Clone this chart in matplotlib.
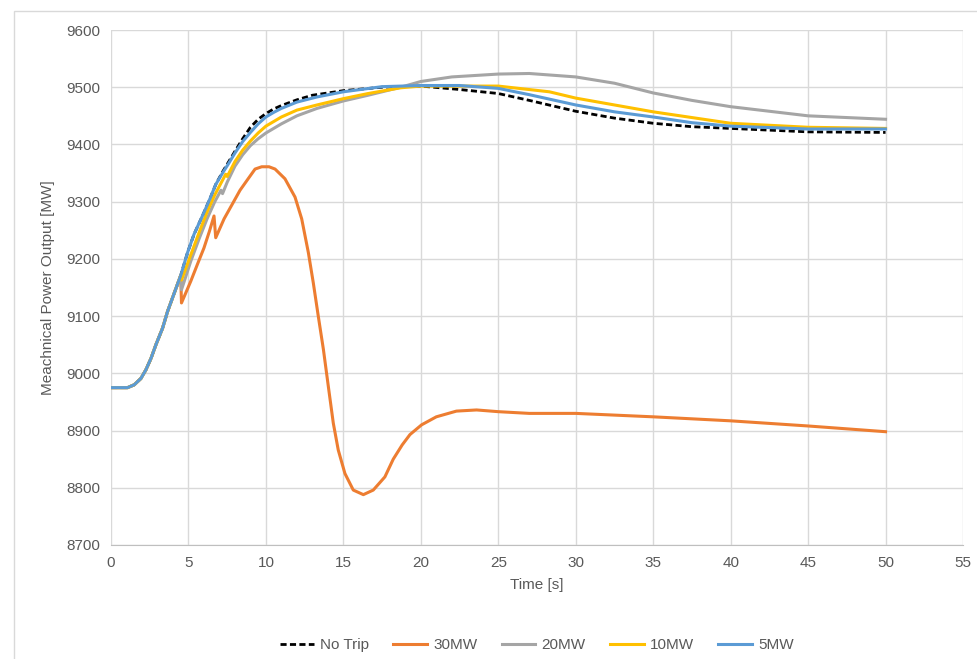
import matplotlib
matplotlib.use("Agg")
import matplotlib.pyplot as plt
from matplotlib.patches import Rectangle

plt.rcParams['font.family'] = ['Liberation Sans', 'DejaVu Sans']

# Common start (all series identical before the trip)
t_common = [0, 1.07, 1.5, 1.93, 2.25, 2.58, 2.9, 3.33, 3.65, 4.08, 4.5]
v_common = [8975, 8975, 8980, 8991, 9006, 9026, 9050, 9079, 9108, 9140, 9171]

t_notrip = t_common + [4.94, 5.36, 6.0, 6.4, 6.76, 7.2, 7.6, 8.0, 8.5, 9.0, 9.5, 10.0, 10.5, 11.0, 12.0, 13.0,
                       15.0, 17.5, 20.0, 22.5, 25.0, 27.0, 30.0, 32.5, 35.0, 37.5, 40.0, 45.0, 50.0]
v_notrip = v_common + [9211, 9243, 9281, 9306, 9330, 9352, 9370, 9388, 9410, 9430, 9444, 9454, 9462, 9468, 9478,
                       9486, 9494, 9500, 9502, 9496, 9489, 9477, 9458, 9446, 9437, 9431, 9428, 9422, 9421]

t_30 = t_common + [4.55, 4.85, 5.15, 5.6, 6.0, 6.35, 6.65, 6.76, 7.3, 7.94, 8.33, 8.8, 9.3, 9.73, 10.2,
                   10.59, 11.23, 11.88, 12.31, 12.74, 13.06, 13.38, 13.71, 14.03, 14.35, 14.67, 15.1, 15.64,
                   16.29, 16.93, 17.68, 18.22, 18.8, 19.3, 20.05, 21.0, 22.3, 23.6, 25.0, 27.0, 30.0, 35.0,
                   40.0, 45.0, 50.0]
v_30 = v_common + [9123, 9142, 9161, 9192, 9219, 9248, 9275, 9237, 9270, 9301, 9320, 9338, 9357, 9361, 9361,
                   9357, 9340, 9308, 9270, 9211, 9158, 9100, 9042, 8977, 8913, 8866, 8825, 8796,
                   8788, 8796, 8819, 8850, 8875, 8893, 8910, 8924, 8934, 8936, 8933, 8930, 8930, 8924,
                   8917, 8908, 8898]

t_20 = t_common + [4.55, 5.15, 5.7, 6.2, 6.7, 7.1, 7.2, 7.5, 8.0, 8.5, 9.0, 9.5, 10.0, 11.0, 12.0, 13.3,
                   15.0, 16.6, 18.7, 20.0, 22.0, 25.0, 27.0, 30.0, 32.5, 35.0, 37.5, 40.0, 45.0, 50.0]
v_20 = v_common + [9146, 9196, 9236, 9270, 9300, 9320, 9314, 9334, 9362, 9382, 9398, 9410, 9420, 9436, 9450, 9463,
                   9476, 9486, 9500, 9510, 9518, 9523, 9524, 9518, 9507, 9490, 9477, 9466, 9450, 9444]

t_10 = t_common + [4.55, 5.15, 5.7, 6.2, 6.7, 7.25, 7.4, 7.5, 8.0, 8.5, 9.0, 9.5, 10.0, 11.0, 12.0, 13.3, 15.0,
                   16.6, 18.7, 20.0, 25.0, 28.3, 30.0, 35.0, 40.0, 45.0, 50.0]
v_10 = v_common + [9163, 9207, 9247, 9282, 9312, 9340, 9348, 9344, 9370, 9390, 9406, 9420, 9432, 9448, 9460, 9469,
                   9480, 9489, 9499, 9502, 9502, 9492, 9481, 9457, 9437, 9430, 9428]

t_5 = t_common + [4.94, 5.36, 6.0, 6.4, 6.76, 7.2, 7.6, 8.0, 8.5, 9.0, 9.5, 10.0, 10.5, 11.0, 12.0, 13.3,
                  15.0, 17.5, 20.0, 22.5, 25.0, 27.0, 30.0, 32.5, 35.0, 37.5, 40.0, 45.0, 50.0]
v_5 = v_common + [9211, 9243, 9281, 9306, 9330, 9350, 9367, 9385, 9405, 9421, 9436, 9448, 9456, 9463, 9474, 9483,
                  9492, 9501, 9503, 9503, 9498, 9487, 9469, 9457, 9448, 9438, 9432, 9427, 9427]

x_ticks = list(range(0, 60, 5))
y_ticks = list(range(8700, 9700, 100))

fig = plt.figure(figsize=(9.78, 6.59), dpi=100)
ax = fig.add_axes([111/978, 1-545/659, (963-111)/978, (545-30)/659])

fig.patches.append(Rectangle((14/978, -0.01), 1.0, 1-11/659 + 0.01, transform=fig.transFigure,
                             fill=False, edgecolor='#d9d9d9', linewidth=1.0))

ax.plot(t_notrip, v_notrip, color='black', lw=2.0, linestyle=(0, (2.2, 1.2)), label='No Trip')
ax.plot(t_30, v_30, color='#ED7D31', lw=2.2, label='30MW')
ax.plot(t_20, v_20, color='#A5A5A5', lw=2.2, label='20MW')
ax.plot(t_10, v_10, color='#FFC000', lw=2.2, label='10MW')
ax.plot(t_5, v_5, color='#5B9BD5', lw=2.2, label='5MW')

ax.set_xlim(0, 55)
ax.set_ylim(8700, 9600)
ax.set_xticks(x_ticks)
ax.set_yticks(y_ticks)
ax.grid(True, color='#d9d9d9', linewidth=1.0)
ax.set_axisbelow(True)
for s in ['top', 'right', 'left']:
    ax.spines[s].set_visible(False)
ax.spines['bottom'].set_color('#bfbfbf')
ax.tick_params(length=0, colors='#595959', labelsize=11, pad=8)
ax.set_xlabel('Time [s]', color='#595959', fontsize=11, labelpad=6)
ax.set_ylabel('Meachnical Power Output [MW]', color='#595959', fontsize=11, labelpad=8)

leg = ax.legend(loc='center', bbox_to_anchor=(0.5, -0.195), ncol=5, frameon=False,
                fontsize=11, handlelength=2.2, columnspacing=1.6, handletextpad=0.4)
for txt in leg.get_texts():
    txt.set_color('#595959')

fig.savefig('out.png', dpi=100)
